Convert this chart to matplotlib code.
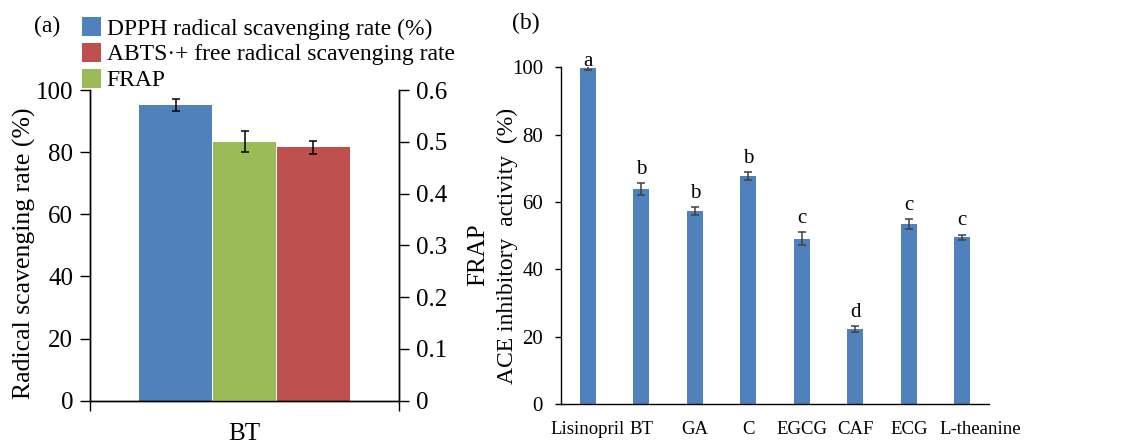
import numpy as np
import matplotlib
matplotlib.use("Agg")
import matplotlib.pyplot as plt
import matplotlib.transforms as mtransforms
from matplotlib.ticker import FuncFormatter

plt.rcParams["font.family"] = ["Liberation Serif", "DejaVu Serif"]

# ---- panel (a) data ----
group = ["BT"]
dpph = [95.2]
dpph_err = [2.0]
abts = [81.5]
abts_err = [2.2]
frap = [0.50]
frap_err = [0.02]

# ---- panel (b) data ----
samples = ["Lisinopril", "BT", "GA", "C", "EGCG", "CAF", "ECG", "L-theanine"]
ace = [99.8, 63.9, 57.3, 67.8, 49.1, 22.3, 53.4, 49.5]
ace_err = [0.5, 1.7, 1.3, 1.2, 2.0, 0.8, 1.5, 0.8]
letters = ["a", "b", "b", "b", "c", "d", "c", "c"]

BLUE = "#4F81BD"
RED = "#C0504D"
GREEN = "#9BBB59"

fig = plt.figure(figsize=(11.42, 4.46), dpi=100)

# ========================================================================
# (a) radical scavenging + FRAP (twin axis)
# ========================================================================
ax1 = fig.add_axes([0.0788, 0.1016, 0.2706, 0.6966])
ax2 = ax1.twinx()

xc = np.arange(len(group)) + 0.5
ekw = dict(ecolor="black", elinewidth=1.1, capsize=3.2, capthick=1.1)
b1 = ax1.bar(xc - 0.222, dpph, width=0.236, yerr=dpph_err, color=BLUE,
             error_kw=ekw, label="DPPH radical scavenging rate (%)")
b2 = ax1.bar(xc + 0.222, abts, width=0.236, yerr=abts_err, color=RED,
             error_kw=ekw, label="ABTS·+ free radical scavenging rate")
b3 = ax2.bar(xc, frap, width=0.207, yerr=frap_err, color=GREEN,
             error_kw=ekw, label="FRAP")

ax1.set_xlim(0, len(group))
ax1.set_ylim(0, 100)
ax1.set_yticks(np.arange(0, 101, 20))
ax2.set_ylim(0, 0.6)
ax2.set_yticks(np.arange(0, 0.61, 0.1))
ax2.yaxis.set_major_formatter(FuncFormatter(lambda v, p: "0" if abs(v) < 1e-9 else f"{v:.1f}"))

ax1.set_xticks(xc, group)
ax1.set_xticks(np.arange(len(group) + 1), minor=True)
ax1.tick_params(axis="x", which="major", length=0, pad=16, labelsize=18)
ax1.tick_params(axis="x", which="minor", length=7, width=1, direction="out")
ax1.tick_params(axis="y", length=7, width=1, direction="out", pad=5, labelsize=18)
ax2.tick_params(axis="y", length=7, width=1, direction="out", pad=5.5, labelsize=18)

for a in (ax1, ax2):
    a.spines["top"].set_visible(False)
    for s in ("left", "right", "bottom"):
        a.spines[s].set_linewidth(1.0)

ax1.set_ylabel("Radical scavenging rate (%)", fontsize=18.5)
ax1.yaxis.set_label_coords(-0.175, 0.475)
ax2.set_ylabel("FRAP", fontsize=18)
ax2.yaxis.set_label_coords(1.22, 0.47)

fig.legend(handles=[b1, b2, b3], loc="upper left",
           bbox_to_anchor=(82 / 1142, 1 - 17 / 446), frameon=False,
           fontsize=17, handlelength=0.8, handleheight=0.85,
           handletextpad=0.25, labelspacing=0.14, borderaxespad=0, borderpad=0)

fig.text(46.7 / 1142, 1 - 26 / 446, "(a)", fontsize=17, ha="center", va="center")

# ========================================================================
# (b) ACE inhibitory activity
# ========================================================================
ax3 = fig.add_axes([0.4912, 0.0942, 0.3748, 0.7549])
xs = np.arange(len(samples))
ax3.bar(xs, ace, width=0.3, yerr=ace_err, color=BLUE,
        error_kw=dict(ecolor="#404040", elinewidth=1.1, capsize=3, capthick=1.1))

# letter offsets above the error bar (points); "a" sits lower, touching the cap
letter_dy = [-3.5, 3, 3, 3, 3, 3, 3, 3]
for x, v, e, t, dy in zip(xs, ace, ace_err, letters, letter_dy):
    ax3.annotate(t, (x, v + e), xytext=(0, dy), textcoords="offset points",
                 ha="center", va="bottom", fontsize=15, annotation_clip=False)

ax3.set_xlim(-0.5, len(samples) - 0.5)
ax3.set_ylim(0, 100)
ax3.set_yticks(np.arange(0, 101, 20))
ax3.set_xticks(xs, samples)
ax3.tick_params(axis="x", length=0, pad=12, labelsize=13.5)
ax3.tick_params(axis="y", length=4.3, width=1, direction="out", pad=8.6, labelsize=15)
ax3.spines["top"].set_visible(False)
ax3.spines["right"].set_visible(False)
ax3.spines["left"].set_linewidth(1.0)
ax3.spines["bottom"].set_linewidth(1.0)

# last tick label sits shifted to the right of its bar in the original
last = ax3.get_xticklabels()[-1]
last.set_transform(last.get_transform() +
                   mtransforms.ScaledTranslation(18 / 100, 0, fig.dpi_scale_trans))

ax3.set_ylabel("ACE inhibitory  activity  (%)", fontsize=17)
ax3.yaxis.set_label_coords(-0.1, 0.468)

fig.text(525.7 / 1142, 1 - 23 / 446, "(b)", fontsize=17, ha="center", va="center")

fig.savefig("out.png", dpi=100)
